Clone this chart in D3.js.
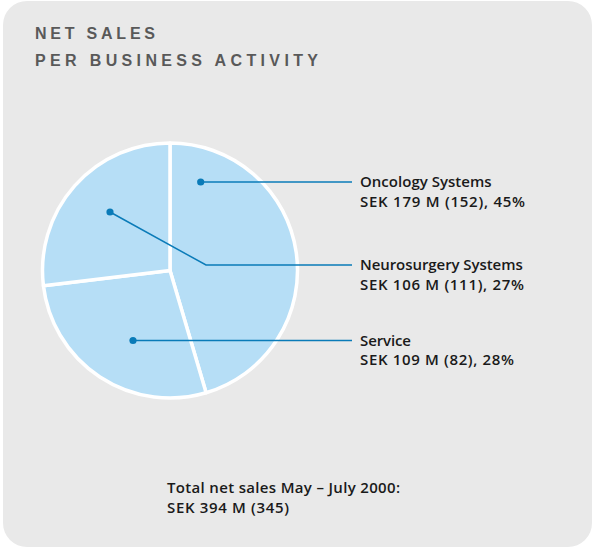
<!DOCTYPE html>
<html><head><meta charset="utf-8">
<script src="https://cdn.jsdelivr.net/npm/d3@7"></script>
<style>body{margin:0;background:#fff;}svg{display:block;}</style>
</head><body><svg id="c" width="593" height="549"></svg>
<script>
const categories = ["Oncology Systems", "Service", "Neurosurgery Systems"];
const values = [179, 109, 106];
const previous = [152, 82, 111];
const percents = [45, 28, 27];
const titleLines = ["NET SALES", "PER BUSINESS ACTIVITY"];
const totalLines = ["Total net sales May \u2013 July 2000:", "SEK 394 M (345)"];

const svg = d3.select("#c");
svg.append("rect").attr("x",3).attr("y",1).attr("width",589).attr("height",546)
  .attr("rx",24).attr("ry",24).attr("fill","#e9e9e9");

const titleW = [120, 283];
const t = svg.append("text").attr("fill","#595959").attr("font-family","Liberation Sans, Arial, sans-serif")
  .attr("font-weight","bold").attr("font-size",16);
titleLines.forEach((s,i)=>t.append("tspan").attr("x",35).attr("y",38.5+i*27)
  .attr("textLength",titleW[i]).attr("lengthAdjust","spacing").text(s));

const cx = 170, cy = 270.5, r = 127.5;
const pie = d3.pie().sort(null).value(d=>d.v);
const data = categories.map((c,i)=>({c, v: values[i], p: previous[i], pct: percents[i]}));
const arcs = pie(data);
const arc = d3.arc().innerRadius(0).outerRadius(r);
const g = svg.append("g").attr("transform",`translate(${cx},${cy})`);
g.selectAll("path").data(arcs).join("path").attr("d",arc)
  .attr("fill","#b6def6").attr("stroke","#fff").attr("stroke-width",3.5).attr("stroke-linejoin","round");

const blue = "#0a7bb8";
const labelY = {"Oncology Systems":182, "Neurosurgery Systems":265, "Service":340.5};
const nameW = {"Oncology Systems":131.6, "Neurosurgery Systems":162.7, "Service":51};
const valW = {"Oncology Systems":165, "Neurosurgery Systems":164, "Service":154};
const lineEnd = 352, textX = 360;
const font = "Open Sans, Liberation Sans, Arial, sans-serif";
arcs.forEach(a=>{
  const name = a.data.c;
  const ly = labelY[name];
  let dx, dy;
  if (name === "Oncology Systems") { dx = 200.7; dy = ly; }
  else if (name === "Service") { dx = 133; dy = ly; }
  else { dx = 110; dy = 212; }
  const pts = name === "Neurosurgery Systems" ? [[dx,dy],[206,ly],[lineEnd,ly]] : [[dx,dy],[lineEnd,ly]];
  svg.append("path").attr("d", d3.line()(pts)).attr("fill","none").attr("stroke",blue).attr("stroke-width",1.5);
  svg.append("circle").attr("cx",dx).attr("cy",dy).attr("r",3.6).attr("fill",blue);
  const tx = svg.append("text").attr("font-family",font).attr("font-weight",600)
    .attr("font-size",15).attr("fill","#1a1a1a");
  tx.append("tspan").attr("x",textX).attr("y",ly+5).attr("textLength",nameW[name]).attr("lengthAdjust","spacing").text(name);
  tx.append("tspan").attr("x",textX).attr("y",ly+24.5).attr("textLength",valW[name]).attr("lengthAdjust","spacing")
    .text(`SEK ${a.data.v} M (${a.data.p}), ${a.data.pct}%`);
});

const totW = [233, 122];
const tt = svg.append("text").attr("font-family",font).attr("font-weight",600)
  .attr("font-size",15).attr("fill","#1a1a1a");
totalLines.forEach((s,i)=>tt.append("tspan").attr("x",167).attr("y",493+i*20)
  .attr("textLength",totW[i]).attr("lengthAdjust","spacing").text(s));
</script></body></html>
